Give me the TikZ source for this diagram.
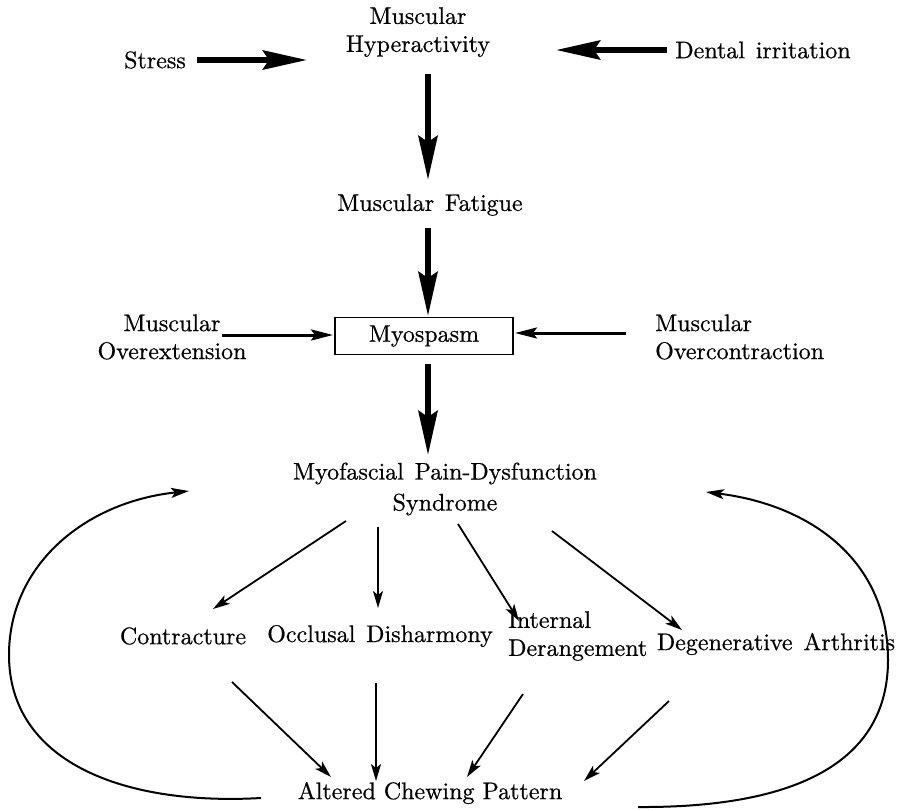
\documentclass[tikz,border=0pt]{standalone}
\usepackage{fontspec}
\setmainfont{lmroman10-regular.otf}[FakeBold=0.6]
\usetikzlibrary{arrows.meta}
\newcommand{\wsp}{\hspace{0.45em}}
\begin{document}
\begin{tikzpicture}[x=1pt,y=-1pt,
  txt/.style={font=\fontsize{24}{28}\selectfont, align=center, inner sep=0pt},
  bigarr/.style={line width=6pt, -{Stealth[length=44pt,width=19pt,inset=6pt]}},
  midarr/.style={line width=3pt, -{Stealth[length=22pt,width=11pt,inset=4pt]}},
  smallarr/.style={line width=1.8pt, -{Stealth[length=17pt,width=10pt,inset=4pt]}},
  looparr/.style={line width=2pt, -{Stealth[length=18pt,width=10pt,inset=4pt]}}]
\useasboundingbox (0,0) rectangle (897,811);
% nodes
\node[txt] (hyper) at (418,32) {Muscular\\Hyperactivity};
\node[txt] (stress) at (155,60) {Stress};
\node[txt] (dental) at (763,50) {Dental\wsp irritation};
\node[txt] (fatigue) at (430,205) {Muscular\wsp Fatigue};
\node[txt, draw, line width=1.8pt, minimum width=178pt, minimum height=37pt] (myo) at (424,336) {Myospasm};
\node[txt] (overext) at (172,337) {Muscular\\Overextension};
\node[txt, anchor=west, align=left] (overcon) at (655,337) {Muscular\\Overcontraction};
\node[txt, align=center] (mpds) at (445,489) {Myofascial\wsp Pain-Dysfunction\\[3pt]Syndrome};
\node[txt] (contr) at (183,636) {Contracture};
\node[txt] (occl) at (380,636) {Occlusal\wsp Disharmony};
\node[txt, anchor=west, align=left] (intern) at (508,636) {Internal\\Derangement};
\node[txt] (degen) at (776,644) {Degenerative\wsp Arthritis};
\node[txt] (altered) at (430,793) {Altered Chewing Pattern};
% connector end points
\coordinate (s1) at (197,60);   \coordinate (s2) at (307,60);
\coordinate (d1) at (667,50);   \coordinate (d2) at (556,50);
\coordinate (h1) at (428,74);   \coordinate (h2) at (428,180);
\coordinate (f1) at (428,228);  \coordinate (f2) at (428,316);
\coordinate (oe1) at (222,335); \coordinate (oe2) at (333,335);
\coordinate (oc1) at (626,333); \coordinate (oc2) at (515,333);
\coordinate (m1) at (428,364);  \coordinate (m2) at (428,455);
\coordinate (p1) at (346,521);  \coordinate (p2) at (213,609);
\coordinate (p3) at (378,527);  \coordinate (p4) at (378,608);
\coordinate (p5) at (458,524);  \coordinate (p6) at (519,621);
\coordinate (p7) at (552,531);  \coordinate (p8) at (682,630);
\coordinate (c1) at (232,682);  \coordinate (c2) at (331,777);
\coordinate (o1) at (376,683);  \coordinate (o2) at (376,781);
\coordinate (i1) at (523,694);  \coordinate (i2) at (467,777);
\coordinate (g1) at (669,701);  \coordinate (g2) at (584,781);
\coordinate (l1) at (261,798);  \coordinate (lm) at (9,655); \coordinate (l2) at (189,491);
\coordinate (r1) at (638,807);  \coordinate (rm) at (888,660); \coordinate (r2) at (706,492);
% arrows
\draw[bigarr] (s1) -- (s2);
\draw[bigarr] (d1) -- (d2);
\draw[bigarr] (h1) -- (h2);
\draw[bigarr] (f1) -- (f2);
\draw[midarr] (oe1) -- (oe2);
\draw[midarr] (oc1) -- (oc2);
\draw[bigarr] (m1) -- (m2);
\draw[smallarr] (p1) -- (p2);
\draw[smallarr] (p3) -- (p4);
\draw[smallarr] (p5) -- (p6);
\draw[smallarr] (p7) -- (p8);
\draw[smallarr] (c1) -- (c2);
\draw[smallarr] (o1) -- (o2);
\draw[smallarr] (i1) -- (i2);
\draw[smallarr] (g1) -- (g2);
\draw[looparr] (l1) .. controls (120,806) and (9,760) .. (lm) .. controls (9,565) and (85,502) .. (l2);
\draw[looparr] (r1) .. controls (800,808) and (888,760) .. (rm) .. controls (888,560) and (810,505) .. (r2);
\end{tikzpicture}
\end{document}
